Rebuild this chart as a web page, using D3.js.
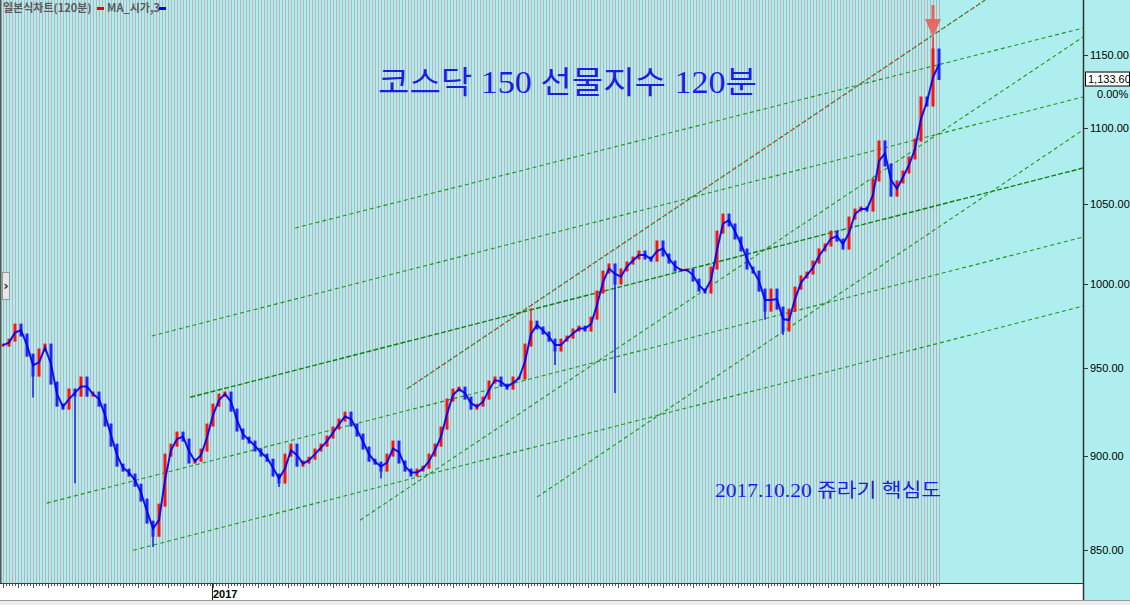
<!DOCTYPE html>
<html><head><meta charset="utf-8">
<script src="https://cdn.jsdelivr.net/npm/d3@7"></script>
<style>body{margin:0;background:#fff;} svg{display:block}</style>
</head><body><svg id="c" width="1130" height="605"></svg>
<script>
// ---- data (120-minute bars, closes) ----
const closes = [
963.3,966.2,975.1,969.2,957.4,945.8,960.4,963.3,941.2,928.6,
926.9,937.2,934.3,944.1,934.3,935.5,928.6,917.4,906.2,895.2,
892.5,889.8,884.3,876.3,864.6,857.7,873.6,900.7,906.2,912.9,
909.0,896.9,897.9,903.5,917.4,928.6,934.3,935.5,925.8,914.6,
910.1,907.9,903.5,900.7,897.9,889.8,886.0,900.7,906.2,895.2,
896.9,899.0,903.5,906.2,910.7,915.7,920.2,924.1,917.4,911.8,
904.6,897.9,896.3,892.5,900.7,907.9,896.9,892.5,889.8,892.5,
894.1,900.7,906.2,915.7,931.5,937.2,938.3,932.6,926.9,928.6,
932.6,941.8,944.1,940.0,938.3,944.1,944.1,963.3,976.9,973.4,
970.4,966.2,960.4,966.2,968.0,972.2,973.9,972.2,979.3,995.0,
1007.2,1011.6,1000.5,1008.5,1012.8,1015.9,1019.6,1015.9,1014.6,1025.9,
1017.8,1013.4,1008.5,1008.5,1008.5,1002.3,996.2,995.0,1009.7,1032.1,
1042.9,1036.6,1028.4,1020.9,1009.7,1007.2,996.2,984.1,996.2,985.3,
972.2,984.1,997.4,1004.2,1006.6,1013.4,1020.9,1024.0,1032.1,1027.1,
1022.1,1041.0,1046.1,1047.4,1046.1,1065.5,1090.5,1075.3,1055.7,1064.2,
1070.7,1079.9,1091.8,1120.2,1115.4,1153.5,1133.6
];
// long wicks: [bar index, extreme price]
const wicks = [[5,933.0],[9,933.0],[12,885.4],[25,851.5],[46,883.3],[63,887.9],
               [88,985.3],[92,951.6],[102,935.5],[127,978.3],[130,969.2],[155,1162.7]];
// green dashed trend lines: [[bar, price],[bar, price]]
const trendLines = [
  [[31.2,933.1],[180,1073.3]],
  [[24.8,968.7],[180,1120.9]],
  [[48.7,1034.7],[180,1169.1]],
  [[7.3,874.7],[180,1029.0]],
  [[21.7,849.9],[180,986.5]],
  [[59.5,865.6],[180,1162.7]],
  [[89.0,877.9],[180,1098.5]]
];
const mainLineIndex = 0;
const redGreenLine = [[67.3,937.8],[163.7,1189.3]];
const yTicks = [850,900,950,1000,1050,1100,1150];
const xLabels = [[35,"2017"]];
const lastPrice = "1,133.60";
const changePct = "0.00%";
const peakIndex = 155;
const titleText = "코스닥 150 선물지수 120분";
const noteText = "2017.10.20 쥬라기 핵심도";
const legendName = "일본식차트(120분)";
const legendMA = "MA_시가,3";

// ---- layout ----
const W = 1130, H = 605, plotR = 1083, plotB = 583;
const svg = d3.select("#c");
const x = d3.scaleLinear().domain([0,180]).range([3,1083]);
const y = d3.scaleLog().domain([850,1150]).range([550,55]);
const N = closes.length;

svg.append("rect").attr("width",W).attr("height",600).attr("fill","#afeeee");
svg.append("rect").attr("y",600).attr("width",W).attr("height",5).attr("fill","#ececec");
svg.append("line").attr("x1",0).attr("x2",W).attr("y1",600.5).attr("y2",600.5).attr("stroke","#9a9a9a");

svg.append("defs").append("clipPath").attr("id","clip")
  .append("rect").attr("x",0).attr("y",0).attr("width",plotR).attr("height",plotB);

// vertical bar grid (one per 120-minute bar)
const gridIdx = d3.range(0, N - 0.5, 0.5);
svg.append("g").selectAll("line").data(gridIdx).join("line")
  .attr("x1",d=>Math.round(x(d))+0.5).attr("x2",d=>Math.round(x(d))+0.5)
  .attr("y1",0).attr("y2",plotB)
  .attr("stroke","#bcb2ba").attr("stroke-width",1);

const g = svg.append("g").attr("clip-path","url(#clip)");
const lineGen = d3.line().x(d=>x(d[0])).y(d=>y(d[1]));

// trend lines
trendLines.forEach((tl,k)=>{
  g.append("path").attr("d",lineGen(tl)).attr("fill","none")
    .attr("stroke", k===mainLineIndex ? "#137f13" : "#1e961e")
    .attr("stroke-width", k===mainLineIndex ? 1.4 : 1.1)
    .attr("stroke-dasharray", k===mainLineIndex ? "5 2" : "4 3");
});
g.append("path").attr("d",lineGen(redGreenLine)).attr("fill","none")
  .attr("stroke","#1e961e").attr("stroke-width",1.2).attr("stroke-dasharray","3 4");
g.append("path").attr("d",lineGen(redGreenLine)).attr("fill","none")
  .attr("stroke","#d02828").attr("stroke-width",1.4).attr("stroke-dasharray","2 5").attr("stroke-dashoffset",-3);

// wicks
wicks.forEach(([i,p])=>{
  const c = closes[i], o = i>0?closes[i-1]:c;
  const up = c>=o;
  const ref = p < Math.min(o,c) ? Math.min(o,c) : Math.max(o,c);
  g.append("line").attr("x1",x(i)).attr("x2",x(i)).attr("y1",y(ref)).attr("y2",y(p))
    .attr("stroke", up ? "#ff2020" : "#1a1aff").attr("stroke-width",1.5);
});

// candles
const candles = closes.map((c,i)=>({i, o: i>0?closes[i-1]:c, c}));
g.append("g").selectAll("rect").data(candles).join("rect")
  .attr("x",d=>x(d.i)-1.5).attr("width",3)
  .attr("y",d=>y(Math.max(d.o,d.c))-1.5)
  .attr("height",d=>Math.max(3, Math.abs(y(d.o)-y(d.c))+3))
  .attr("fill",d=>d.c>=d.o ? "#ff1010" : "#2222ff");

// MA line
const ma = closes.map((c,i)=>[i, d3.mean(closes.slice(Math.max(0,i-1), i+1))]);
g.append("path").attr("d",lineGen(ma)).attr("fill","none")
  .attr("stroke","#0000f0").attr("stroke-width",2).attr("stroke-opacity",0.9);

// red arrow pointing to peak
const ax = x(peakIndex), ay = y(wicks.find(w=>w[0]===peakIndex)[1]);
svg.append("line").attr("x1",ax).attr("x2",ax).attr("y1",5).attr("y2",ay-14)
  .attr("stroke","#e8615a").attr("stroke-width",3);
svg.append("path").attr("d",`M${ax-8},${ay-18}L${ax+8},${ay-18}L${ax},${ay}Z`)
  .attr("fill","#e8615a").attr("opacity",0.9);

// left border
svg.append("line").attr("x1",0.5).attr("x2",0.5).attr("y1",0).attr("y2",600)
  .attr("stroke","#555").attr("stroke-width",2);

// bottom axis
svg.append("rect").attr("x",0).attr("y",plotB).attr("width",plotR).attr("height",17).attr("fill","#fff");
svg.append("line").attr("x1",0).attr("x2",plotR).attr("y1",plotB+0.5).attr("y2",plotB+0.5).attr("stroke","#333");
svg.append("g").selectAll("line").data(gridIdx).join("line")
  .attr("x1",d=>Math.round(x(d))+0.5).attr("x2",d=>Math.round(x(d))+0.5)
  .attr("y1",plotB).attr("y2",d=> (d%2.5===0) ? plotB+5 : plotB+3)
  .attr("stroke","#555");
xLabels.forEach(([i,t])=>{
  svg.append("line").attr("x1",Math.round(x(i))-0.5).attr("x2",Math.round(x(i))-0.5)
    .attr("y1",plotB).attr("y2",600).attr("stroke","#222");
  svg.append("text").attr("x",x(i)).attr("y",598).text(t)
    .attr("font-family","Liberation Sans, Arial").attr("font-size",11).attr("font-weight","bold").attr("fill","#000");
});

// right axis
svg.append("line").attr("x1",plotR+0.5).attr("x2",plotR+0.5).attr("y1",0).attr("y2",600)
  .attr("stroke","#333").attr("stroke-width",1.5);
const ya = svg.append("g");
yTicks.forEach(t=>{
  ya.append("line").attr("x1",plotR).attr("x2",plotR+5).attr("y1",Math.round(y(t))+0.5).attr("y2",Math.round(y(t))+0.5).attr("stroke","#333");
  ya.append("text").attr("x",plotR+7).attr("y",y(t)+4).text(d3.format(".2f")(t))
    .attr("font-family","Liberation Sans, Arial").attr("font-size",11).attr("fill","#000");
});
const lp = y(closes[N-1]);
svg.append("rect").attr("x",1085.5).attr("y",lp-6.5).attr("width",44).attr("height",14)
  .attr("fill","#fff").attr("stroke","#000");
svg.append("text").attr("x",1088).attr("y",lp+4.5).text(lastPrice)
  .attr("font-family","Liberation Sans, Arial").attr("font-size",11).attr("fill","#000");
svg.append("text").attr("x",1097).attr("y",lp+19).text(changePct)
  .attr("font-family","Liberation Sans, Arial").attr("font-size",11).attr("fill","#000");

// legend
svg.append("text").attr("x",3).attr("y",12).text(legendName)
  .attr("font-family","Noto Sans CJK KR, sans-serif").attr("font-size",11).attr("fill","#5a5a5a").attr("font-weight","bold");
svg.append("rect").attr("x",97).attr("y",7).attr("width",7).attr("height",3).attr("fill","#ee0000");
svg.append("text").attr("x",107).attr("y",12).text(legendMA)
  .attr("font-family","Noto Sans CJK KR, sans-serif").attr("font-size",11).attr("fill","#5a5a5a").attr("font-weight","bold");
svg.append("rect").attr("x",159).attr("y",7).attr("width",7).attr("height",3).attr("fill","#0000ee");

// left scroll button
svg.append("rect").attr("x",2.5).attr("y",272.5).attr("width",7).attr("height",27).attr("fill","#e6e6e6").attr("stroke","#999");
svg.append("text").attr("x",3.5).attr("y",290).text("›").attr("font-family","DejaVu Sans").attr("font-size",12).attr("font-weight","bold").attr("fill","#222");

// title and note
svg.append("text").attr("x",378).attr("y",93).text(titleText)
  .attr("font-family","Liberation Serif, Noto Sans CJK KR, serif").attr("font-size",31)
  .attr("textLength",379).attr("lengthAdjust","spacingAndGlyphs").attr("fill","#1c1ce8");
svg.append("text").attr("x",715).attr("y",497).text(noteText)
  .attr("font-family","Liberation Serif, Noto Sans CJK KR, serif").attr("font-size",19)
  .attr("textLength",226).attr("lengthAdjust","spacingAndGlyphs").attr("fill","#1c1ce8");
</script></body></html>
